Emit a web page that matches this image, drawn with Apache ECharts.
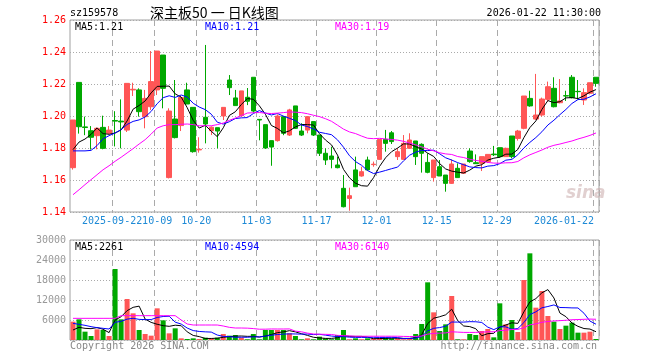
<!DOCTYPE html>
<html><head><meta charset="utf-8">
<script src="https://cdn.jsdelivr.net/npm/echarts@6/dist/echarts.min.js"></script>
<style>html,body{margin:0;padding:0;background:#fff}#c{width:660px;height:360px}</style>
</head><body><div id="c"></div>
<script>
const dates = ['2025-09-11','2025-09-12','2025-09-15','2025-09-16','2025-09-17','2025-09-18','2025-09-19','2025-09-22','2025-09-23','2025-09-24','2025-09-25','2025-09-26','2025-09-29','2025-09-30',
'2025-10-09','2025-10-10','2025-10-13','2025-10-14','2025-10-15','2025-10-16','2025-10-17','2025-10-20','2025-10-21','2025-10-22','2025-10-23','2025-10-24','2025-10-27','2025-10-28','2025-10-29','2025-10-30','2025-10-31',
'2025-11-03','2025-11-04','2025-11-05','2025-11-06','2025-11-07','2025-11-10','2025-11-11','2025-11-12','2025-11-13','2025-11-14','2025-11-17','2025-11-18','2025-11-19','2025-11-20','2025-11-21','2025-11-24','2025-11-25','2025-11-26','2025-11-27','2025-11-28',
'2025-12-01','2025-12-02','2025-12-03','2025-12-04','2025-12-05','2025-12-08','2025-12-09','2025-12-10','2025-12-11','2025-12-12','2025-12-15','2025-12-16','2025-12-17','2025-12-18','2025-12-19','2025-12-22','2025-12-23','2025-12-24','2025-12-25','2025-12-26','2025-12-29','2025-12-30','2025-12-31',
'2026-01-05','2026-01-06','2026-01-07','2026-01-08','2026-01-09','2026-01-12','2026-01-13','2026-01-14','2026-01-15','2026-01-16','2026-01-19','2026-01-20','2026-01-21','2026-01-22'];

const opens = [1.1677,1.2210,1.1932,1.1908,1.1877,1.1929,1.1892,1.1972,1.1968,1.1912,
1.2163,1.2163,1.1996,1.2058,1.2163,1.2381,1.1615,1.1981,1.1940,1.2163,
1.2054,1.1788,1.1992,1.1908,1.1927,1.2000,1.2225,1.2113,1.2002,1.2117,
1.2242,1.1979,1.1946,1.1846,1.1846,1.1996,1.1881,1.2063,1.1906,1.1912,
1.1965,1.1881,1.1767,1.1750,1.1694,1.1548,1.1485,1.1663,1.1625,1.1725,
1.1696,1.1729,1.1854,1.1895,1.1746,1.1729,1.1798,1.1844,1.1823,1.1710,
1.1615,1.1683,1.1631,1.1579,1.1673,1.1642,1.1781,1.1708,1.1704,1.1715,
1.1762,1.1802,1.1746,1.1875,1.1860,1.1923,1.2110,1.1981,1.2006,1.2104,
1.2173,1.2083,1.2127,1.2242,1.2154,1.2100,1.2142,1.2242];
const closes = [1.1975,1.1933,1.1928,1.1867,1.1923,1.1798,1.1912,1.1968,1.1963,1.2204,
1.2167,1.2027,1.2110,1.2215,1.2406,1.2173,1.2031,1.1865,1.2115,1.2075,
1.1777,1.1792,1.1950,1.1930,1.1906,1.2054,1.2177,1.2065,1.2157,1.2092,
1.2031,1.1975,1.1800,1.1806,1.2000,1.1892,1.2038,1.1923,1.1881,1.1996,
1.1881,1.1767,1.1725,1.1729,1.1677,1.1433,1.1502,1.1558,1.1652,1.1663,
1.1699,1.1854,1.1829,1.1840,1.1777,1.1829,1.1850,1.1746,1.1767,1.1648,
1.1725,1.1625,1.1579,1.1700,1.1615,1.1700,1.1715,1.1702,1.1746,1.1760,
1.1758,1.1746,1.1798,1.1746,1.1906,1.2125,1.2063,1.2006,1.2106,1.2183,
1.2058,1.2094,1.2125,1.2115,1.2152,1.2146,1.2208,1.2204];
const lows = [1.1665,1.1890,1.1880,1.1790,1.1792,1.1792,1.1887,1.1810,1.1798,1.1900,
1.2125,1.1996,1.1923,1.2038,1.2131,1.2048,1.1610,1.1860,1.1906,1.2075,
1.1771,1.1771,1.1829,1.1881,1.1798,1.1975,1.2131,1.2065,1.1996,1.2068,
1.2021,1.1848,1.1795,1.1689,1.1840,1.1880,1.1875,1.1919,1.1875,1.1892,
1.1875,1.1750,1.1694,1.1673,1.1673,1.1429,1.1408,1.1558,1.1621,1.1658,
1.1683,1.1725,1.1777,1.1825,1.1725,1.1725,1.1798,1.1694,1.1646,1.1642,
1.1590,1.1625,1.1527,1.1575,1.1615,1.1640,1.1708,1.1700,1.1656,1.1706,
1.1750,1.1740,1.1746,1.1735,1.1846,1.1917,1.2058,1.1975,1.1996,1.2090,
1.2054,1.2079,1.2094,1.2110,1.2104,1.2069,1.2135,1.2183];
const highs = [1.1975,1.2210,1.1996,1.1937,1.1929,1.2002,1.1937,1.2030,1.2104,1.2204,
1.2208,1.2173,1.2163,1.2406,1.2406,1.2381,1.2048,1.2225,1.2125,1.2208,
1.2054,1.1867,1.2444,1.1935,1.1927,1.2054,1.2256,1.2163,1.2157,1.2175,
1.2242,1.1979,1.1946,1.1846,1.2010,1.2000,1.2045,1.2063,1.1955,1.1996,
1.1965,1.1881,1.1798,1.1808,1.1746,1.1631,1.1552,1.1746,1.1683,1.1746,
1.1715,1.1854,1.1913,1.1906,1.1800,1.1881,1.1892,1.1844,1.1829,1.1767,
1.1725,1.1725,1.1631,1.1729,1.1704,1.1700,1.1798,1.1760,1.1746,1.1760,
1.1813,1.1802,1.1802,1.1875,1.1913,1.2125,1.2158,1.2263,1.2115,1.2215,
1.2242,1.2231,1.2158,1.2256,1.2225,1.2173,1.2208,1.2242];
const volumes = [5500,6200,2500,1200,3200,3000,1200,21300,6200,12300,
8000,3000,1800,1300,9500,5900,2000,3500,500,300,
500,300,700,500,700,1800,1300,1500,700,200,
1800,200,3000,3000,3000,3000,2000,1200,200,500,
200,1000,500,200,1500,3000,200,500,200,500,
500,500,700,500,500,200,500,1800,4800,17300,
8300,2700,4700,13200,200,200,1800,1500,2700,3300,
800,11000,4700,6000,2400,18000,26000,9700,14700,7200,
5500,3300,4300,5200,2200,2200,2500,300];

// moving-average values before enough history is on screen
const priceMa5Head = [1.1790,1.1837,1.1856,1.1885];
const priceMa10Head = [1.1782,1.1782,1.1782,1.1785,1.1815,1.1858,1.1877,1.1894,1.1915];
const priceMa30Head = [1.1508,1.1539,1.1571,1.1602,1.1633,1.1664,1.1689,1.1717,1.1742,1.1769,
1.1796,1.1825,1.1852,1.1887,1.1925,1.1939,1.1946,1.1946,1.1948,1.1950,
1.1946,1.1939,1.1939,1.1939,1.1946,1.1956,1.1973,1.1987,1.2002];
const volMa5Head = [3000,3800,3500,3400];
const volMa10Head = [5000,4700,4400,4000,3700,3500,3300,5300,5600];
const volMa30Head = [6500,6500,6500,6500,6500,6500,6500,6500,7300,7300,
7300,7300,7300,7300,7300,7300,7300,7300,6000,4800,
4500,4500,4500,4500,4500,4200,3800,3600,3600];

const tickIndex = [7,14,21,31,41,51,61,71,87];
const tickLabels = ['2025-09-22','10-09','10-20','11-03','11-17','12-01','12-15','12-29','2026-01-22'];

const legendPrice = ['MA5:1.21','MA10:1.21','MA30:1.19'];
const legendVol = ['MA5:2261','MA10:4594','MA30:6140'];

function movingAvg(values, n, head) {
  return values.map(function (v, i) {
    if (i < n - 1) return head[i];
    let s = 0;
    for (let k = i - n + 1; k <= i; k++) s += values[k];
    return s / n;
  });
}

const UP = '#ff5656', DOWN = '#00a800';
const MONO = '"DejaVu Sans Mono", monospace';
const AXBLUE = '#1e8ad6';

const chart = echarts.init(document.getElementById('c'), null, {renderer: 'canvas'});

const candleData = dates.map((d, i) => [opens[i], closes[i], lows[i], highs[i]]);
const volData = volumes.map((v, i) => ({value: v, itemStyle: {color: closes[i] > opens[i] ? UP : DOWN}}));

const isTick = (i) => tickIndex.indexOf(i) >= 0;

function lineSeries(name, data, color, xi, yi) {
  return {name: name, type: 'line', data: data, xAxisIndex: xi, yAxisIndex: yi,
    showSymbol: false, symbol: 'none', smooth: false, z: 5,
    lineStyle: {color: color, width: 1}};
}

function txt(x, y, text, color, opts) {
  opts = opts || {};
  return {type: 'text', x: x, y: y, z: 100, style: Object.assign({
    text: text, fill: color, fontSize: 10, fontFamily: MONO,
    align: 'left', verticalAlign: 'middle'}, opts)};
}

const richBase = {color: AXBLUE, fontSize: 10, fontFamily: MONO};

const option = {
  animation: false,
  backgroundColor: '#fff',
  grid: [
    {left: 70, top: 20, width: 529, height: 192, show: true, borderColor: '#a0a0a0', borderWidth: 1, containLabel: false},
    {left: 70, top: 240, width: 529, height: 100, show: true, borderColor: '#a0a0a0', borderWidth: 1, containLabel: false}
  ],
  xAxis: [
    {type: 'category', gridIndex: 0, data: dates, boundaryGap: true,
      axisLine: {show: false}, axisTick: {show: false},
      axisLabel: {interval: (i) => isTick(i), margin: 4, hideOverlap: false,
        showMinLabel: true, showMaxLabel: true,
        formatter: function (v, i) {
          const k = tickIndex.indexOf(i);
          if (k < 0) return '';
          if (k === tickIndex.length - 1) return '{b|' + tickLabels[k] + '}';
          if (k === 1) return '{c|' + tickLabels[k] + '}';
          return '{a|' + tickLabels[k] + '}';
        },
        rich: {
          a: Object.assign({padding: [0, 6, 0, 0]}, richBase),
          b: Object.assign({padding: [0, 64, 0, 0]}, richBase),
          c: Object.assign({padding: [0, 0, 0, 0]}, richBase)
        }},
      splitLine: {show: true, interval: (i) => isTick(i), lineStyle: {color: '#aaa', type: [6, 4], width: 1}}},
    {type: 'category', gridIndex: 1, data: dates, boundaryGap: true,
      axisLine: {show: false}, axisTick: {show: false}, axisLabel: {show: false},
      splitLine: {show: true, interval: (i) => isTick(i), lineStyle: {color: '#aaa', type: [6, 4], width: 1}}}
  ],
  yAxis: [
    {type: 'value', gridIndex: 0, min: 1.14, max: 1.26, interval: 0.02, scale: true,
      axisLine: {show: false}, axisTick: {show: false},
      axisLabel: {color: '#ff0000', fontSize: 10, fontFamily: MONO, margin: 4, formatter: (v) => v.toFixed(2)},
      splitLine: {show: true, lineStyle: {color: '#aaa', type: [1, 2], width: 1}}},
    {type: 'value', gridIndex: 1, min: 0, max: 30000, interval: 6000,
      axisLine: {show: false}, axisTick: {show: false},
      axisLabel: {color: '#999', fontSize: 10, fontFamily: MONO, margin: 4, formatter: (v) => v === 0 ? '' : String(v)},
      splitLine: {show: true, lineStyle: {color: '#aaa', type: [1, 2], width: 1}}}
  ],
  series: [
    {type: 'candlestick', xAxisIndex: 0, yAxisIndex: 0, data: candleData, barWidth: 5,
      itemStyle: {color: UP, color0: DOWN, borderColor: UP, borderColor0: DOWN, borderWidth: 1}},
    lineSeries('MA5', movingAvg(closes, 5, priceMa5Head), '#000000', 0, 0),
    lineSeries('MA10', movingAvg(closes, 10, priceMa10Head), '#0000ff', 0, 0),
    lineSeries('MA30', movingAvg(closes, 30, priceMa30Head), '#ff00ff', 0, 0),
    {type: 'bar', xAxisIndex: 1, yAxisIndex: 1, data: volData, barWidth: 5},
    lineSeries('VMA5', movingAvg(volumes, 5, volMa5Head), '#000000', 1, 1),
    lineSeries('VMA10', movingAvg(volumes, 10, volMa10Head), '#0000ff', 1, 1),
    lineSeries('VMA30', movingAvg(volumes, 30, volMa30Head), '#ff00ff', 1, 1)
  ],
  graphic: [
    txt(70, 13, 'sz159578', '#000'),
    txt(150, 13, '深主板50 一 日K线图', '#000', {fontSize: 14, fontFamily: '"Noto Sans CJK SC", sans-serif'}),
    txt(601, 13, '2026-01-22 11:30:00', '#000', {align: 'right'}),
    txt(75, 27, legendPrice[0], '#000'),
    txt(205, 27, legendPrice[1], '#0000ff'),
    txt(335, 27, legendPrice[2], '#ff00ff'),
    txt(75, 247, legendVol[0], '#000'),
    txt(205, 247, legendVol[1], '#0000ff'),
    txt(335, 247, legendVol[2], '#ff00ff'),
    txt(70, 346, 'Copyright 2026 SINA.COM', '#888'),
    txt(597, 346, 'http://finance.sina.com.cn', '#888', {align: 'right'}),
    txt(566, 194, 'sina', 'rgba(200,170,170,0.55)', {fontSize: 17, fontStyle: 'italic', fontWeight: 'bold', fontFamily: 'Verdana, "DejaVu Sans", sans-serif'})
  ]
};
chart.setOption(option);
</script></body></html>
